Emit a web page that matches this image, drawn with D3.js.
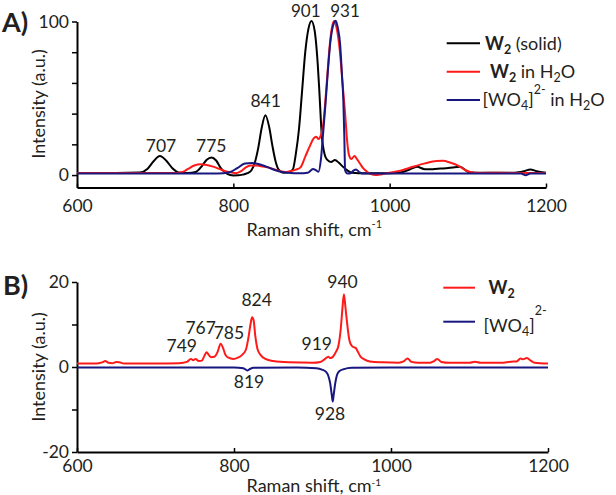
<!DOCTYPE html>
<html><head><meta charset="utf-8">
<script src="https://cdn.jsdelivr.net/npm/d3@7"></script>
<style>
html,body{margin:0;padding:0;background:#fff;}
svg text{font-family:Lato,"Liberation Sans",sans-serif;fill:#231f20;}
</style></head>
<body><svg id="c" width="616" height="495"></svg>
<script>
// ---------------- DATA ----------------
// Panel A: W2 (solid)
const shiftA_solid = [600,650,680,690,698,706,714,722,732,742,752,760,766,772,778,784,790,796,800,806,812,818,823,828,832,836,841,846,850,854,858,864,870,876,880,884,888,892,896,900,904,908,910,913,917,920,925,930,935,940,946,952,960,975,1000,1015,1025,1035,1045,1055,1065,1075,1090,1100,1110,1130,1160,1172,1180,1188,1200];
const intA_solid   = [1.3,1.3,1.6,4,9,12.4,9.5,4.5,1.5,1.3,2,6,10,11.5,9.5,4.5,1.5,0,-0.3,-0.2,0.3,1.2,3,9,18,30,39,31,19,9,3.5,1.5,1.8,3.5,14,30,55,80,95,100.3,94,72,55,27,13,10,8.5,9.8,8,5.5,3,1.5,1.2,1.2,1.2,1.8,3.5,5.4,3.8,3.8,4.2,4.6,5.4,2.2,1.5,1.5,1.5,2.5,3.7,2.5,1.5];
// Panel A: W2 in H2O
const shiftA_h2o = [600,700,725,735,742,750,758,766,774,782,790,796,803,810,816,822,830,838,846,854,862,868,874,880,886,892,898,903,906,909,912,915,918,921,924,927,929,932,936,940,943,946,948,951,955,958,962,966,971,976,982,990,1000,1015,1030,1045,1060,1068,1078,1088,1096,1103,1115,1140,1170,1200];
const intA_h2o   = [1.3,1.3,1.4,2,4,6.2,7,6.5,5.5,4,2.5,1.8,1.2,2.5,5,6.2,6.2,5.5,4.7,3.5,2.4,2,2.6,3.5,5,12,19,24,25,23.5,26,33,50,70,88,98,100.3,96,82,58,40,20,13,10.5,12.4,10.5,7.5,4.5,2.2,0.7,0,0.6,1.5,3,5.4,7.6,9.2,9.3,8,6,3.5,2,1.4,1.5,1.3,1.3];
// Panel A: [WO4]2- in H2O
const shiftA_wo4 = [600,780,795,805,815,824,832,842,853,862,870,885,895,902,906,909,912,915,918,921,924,927,931,934,936.5,939,940.7,942,943,946,950,954,957,961,965,1000,1100,1168,1174,1180,1200];
const intA_wo4   = [1,1,1.8,4.5,7.6,7.8,7.2,5.5,3.3,2,1.5,1.1,1.5,3.9,3,2.2,10,28,47,68,86,96,100.5,95,86,65,49,25,3,1,1.2,3,3.7,2,1,1,1,1,-0.2,1,1];
// Panel B: W2
const shiftB_w2 = [600,625,632,636,640,645,650,654,660,700,730,740,745,748,751,755,759,762,765,768,771,775,779,783,786,789,793,799,805,810,815,818,821,823,825,827,830,834,840,850,870,900,910,916,920,923,926,930,933,936,938,940,942,944,947,950,952,955,958,961,966,973,990,1010,1016,1021,1026,1035,1050,1055,1059,1064,1075,1100,1107,1114,1140,1153,1160,1165,1168,1173,1178,1183,1200];
const intB_w2   = [0.8,0.8,1.1,1.4,1.0,0.9,1.2,1.1,0.8,0.8,0.9,1.2,1.9,1.6,1.9,1.4,1.5,2.5,3.5,2.8,2.3,2.4,3.5,5.5,4.5,2.9,2.2,1.9,2.2,2.8,4,6.5,10,11.7,11,7.5,4.2,2.8,1.9,1.4,1.1,1.0,1.2,1.9,2.4,2.1,2.4,3.6,5,9,13.5,17.1,14,10.5,6.3,5,4.7,4.5,3.5,2.5,1.8,1.3,1.1,1.0,1.3,2.0,1.2,1.0,1.0,1.4,1.9,1.2,1.0,1.0,1.25,1.0,1.0,1.25,1.3,2.0,1.8,2.1,1.5,1.0,0.8];
// Panel B: [WO4]2-
const shiftB_wo4 = [600,800,812,817,820,825,880,905,912,917,920,922.5,924.5,925.8,927,929,931,934,940,950,1000,1200];
const intB_wo4   = [-0.1,-0.1,-0.3,-0.8,-0.5,-0.2,-0.1,-0.3,-0.6,-1.1,-2,-3.8,-6.5,-8.1,-6.5,-3.8,-2,-1,-0.5,-0.2,-0.1,-0.1];

// Axis ticks and labels
const xTicks = [600, 800, 1000, 1200];
const yTicksA = [0, 20, 40, 60, 80, 100];
const yLabelsA = [0, 100];
const yTicksB = [-20, -10, 0, 10, 20];
const yLabelsB = [-20, 0, 20];

// Peak annotations
const peakLabelsA = ["707", "775", "841", "901", "931"];
const peakLabelsB = ["749", "767", "785", "824", "919", "940", "819", "928"];

// ---------------- LAYOUT ----------------
const svg = d3.select("#c");
svg.append("rect").attr("width",616).attr("height",495).attr("fill","#fff");

const colBlack = "#000000", colRed = "#ff1a1a", colBlue = "#17177f";
const tickFont = 17.5;

// Panel A scales
const xA = d3.scaleLinear().domain([600,1200]).range([77,546]);
const yA = d3.scaleLinear().domain([-8.1,100]).range([187.5,21.5]);
// Panel B scales
const xB = d3.scaleLinear().domain([600,1200]).range([77,548]);
const yB = d3.scaleLinear().domain([-20,20]).range([452,282]);

function drawAxes(g, x, y, yBottom, yTicks, yLabels, pad){
  const ax = g.append("g").attr("transform",`translate(0,${yBottom})`)
    .call(d3.axisBottom(x).tickValues(xTicks).tickSizeInner(-4).tickSizeOuter(0).tickPadding(pad).tickFormat(d3.format("d")));
  ax.select(".domain").attr("stroke","#000").attr("stroke-width",2);
  ax.selectAll(".tick line").attr("stroke","#000").attr("stroke-width",1.5);
  ax.selectAll(".tick text").attr("font-size",tickFont).attr("font-family","Lato").attr("fill","#231f20").attr("dy","0.7em");
  const ay = g.append("g").attr("transform",`translate(${x.range()[0]},0)`)
    .call(d3.axisLeft(y).tickValues(yTicks).tickSizeInner(5).tickSizeOuter(0).tickPadding(3)
      .tickFormat(d => yLabels.includes(d) ? String(d) : ""));
  ay.select(".domain").attr("stroke","#000").attr("stroke-width",2);
  ay.selectAll(".tick line").attr("stroke","#000").attr("stroke-width",1.5);
  ay.selectAll(".tick text").attr("font-size",tickFont).attr("font-family","Lato").attr("fill","#231f20");
}

function drawSeries(g, x, y, xs, ys, color){
  const pts = xs.map((v,i)=>[v, ys[i]]);
  g.append("path").datum(pts)
    .attr("fill","none").attr("stroke",color).attr("stroke-width",2).attr("stroke-linejoin","round")
    .attr("d", d3.line().x(d=>x(d[0])).y(d=>y(d[1])).curve(d3.curveMonotoneX));
}

// ---- Panel A ----
const gA = svg.append("g");
drawAxes(gA, xA, yA, 187.5, yTicksA, yLabelsA, 12);
drawSeries(gA, xA, yA, shiftA_solid, intA_solid, colBlack);
drawSeries(gA, xA, yA, shiftA_h2o, intA_h2o, colRed);
drawSeries(gA, xA, yA, shiftA_wo4, intA_wo4, colBlue);

// peak label anchors (data units): [shift, intensity] for text baseline centre
const peakPosA = [[707.5,15.2],[771.8,15],[841.4,44.5],[892.7,102.8],[942.8,102.8]];
peakLabelsA.forEach((t,i)=>{
  gA.append("text").attr("x",xA(peakPosA[i][0])).attr("y",yA(peakPosA[i][1]))
    .attr("text-anchor","middle").attr("font-size", i>=3 ? 17 : tickFont).text(t);
});

svg.append("text").attr("x",2).attr("y",31.5).attr("font-size",27).attr("font-weight","bold")
  .attr("font-family","Liberation Sans").attr("fill","#231f20").text("A)");

// axis titles A
svg.append("text").attr("transform","translate(45,104) rotate(-90)").attr("text-anchor","middle")
  .attr("font-size",18).text("Intensity (a.u.)");
const tA = svg.append("text").attr("x",246.5).attr("y",236).attr("font-size",18);
tA.append("tspan").text("Raman shift, cm");
tA.append("tspan").attr("dy",-8).attr("font-size",11).text("-1");

// legend A
const legA = svg.append("g");
[[colBlack,43.3],[colRed,71.7],[colBlue,100]].forEach(d=>{
  legA.append("line").attr("x1",446.7).attr("x2",480).attr("y1",d[1]).attr("y2",d[1])
    .attr("stroke",d[0]).attr("stroke-width",2);
});
const lf = 18, sf = 12.5;
const lg1 = legA.append("text").attr("x",485).attr("y",49.5).attr("font-size",lf);
lg1.append("tspan").attr("font-weight","bold").text("W");
lg1.append("tspan").attr("font-weight","bold").attr("font-size",sf).attr("dy",4).text("2");
lg1.append("tspan").attr("dy",-4).text(" (solid)");
const lg2 = legA.append("text").attr("x",490).attr("y",77.5).attr("font-size",lf);
lg2.append("tspan").attr("font-weight","bold").text("W");
lg2.append("tspan").attr("font-weight","bold").attr("font-size",sf).attr("dy",4).text("2");
lg2.append("tspan").attr("dy",-4).text(" in H");
lg2.append("tspan").attr("font-size",sf).attr("dy",4).text("2");
lg2.append("tspan").attr("dy",-4).text("O");
const lg3 = legA.append("text").attr("x",482.5).attr("y",105.5).attr("font-size",lf);
lg3.append("tspan").text("[WO");
lg3.append("tspan").attr("font-size",sf).attr("dy",4).text("4");
lg3.append("tspan").attr("dy",-4).text("]");
lg3.append("tspan").attr("font-size",sf).attr("dy",-12).text("2-");
lg3.append("tspan").attr("dy",12).text(" in H");
lg3.append("tspan").attr("font-size",sf).attr("dy",4).text("2");
lg3.append("tspan").attr("dy",-4).text("O");

// ---- Panel B ----
const gB = svg.append("g");
drawAxes(gB, xB, yB, 452, yTicksB, yLabelsB, 8);
drawSeries(gB, xB, yB, shiftB_wo4, intB_wo4, colBlue);
drawSeries(gB, xB, yB, shiftB_w2, intB_w2, colRed);

const peakPosB = [[733.5,3.5],[757.5,7.8],[793.5,6.6],[828.9,14.3],[905.4,4.1],[938.2,18.7],[819.1,-5.0],[922.3,-12.5]];
peakLabelsB.forEach((t,i)=>{
  gB.append("text").attr("x",xB(peakPosB[i][0])).attr("y",yB(peakPosB[i][1]))
    .attr("text-anchor","middle").attr("font-size",tickFont).text(t);
});

svg.append("text").attr("x",3).attr("y",295).attr("font-size",27).attr("font-weight","bold")
  .attr("font-family","Liberation Sans").attr("fill","#231f20").text("B)");

svg.append("text").attr("transform","translate(45,367) rotate(-90)").attr("text-anchor","middle")
  .attr("font-size",18).text("Intensity (a.u.)");
const tB = svg.append("text").attr("x",246.5).attr("y",492).attr("font-size",18);
tB.append("tspan").text("Raman shift, cm");
tB.append("tspan").attr("dy",-6).attr("font-size",10).text("-1");

// legend B
const legB = svg.append("g");
legB.append("line").attr("x1",443.3).attr("x2",475).attr("y1",287.7).attr("y2",287.7).attr("stroke",colRed).attr("stroke-width",2);
legB.append("line").attr("x1",443.3).attr("x2",475).attr("y1",321.7).attr("y2",321.7).attr("stroke",colBlue).attr("stroke-width",2);
const lb1 = legB.append("text").attr("x",488.5).attr("y",293.5).attr("font-size",lf);
lb1.append("tspan").attr("font-weight","bold").text("W");
lb1.append("tspan").attr("font-weight","bold").attr("font-size",sf).attr("dy",4).text("2");
const lb2 = legB.append("text").attr("x",483.5).attr("y",332).attr("font-size",lf);
lb2.append("tspan").text("[WO");
lb2.append("tspan").attr("font-size",sf).attr("dy",4).text("4");
lb2.append("tspan").attr("dy",-4).text("]");
lb2.append("tspan").attr("font-size",sf).attr("dy",-17).text("2-");
</script></body></html>
